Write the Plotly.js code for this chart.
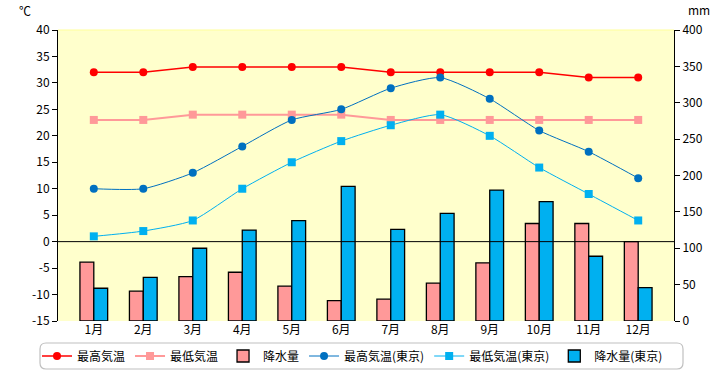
<!DOCTYPE html>
<html><head><meta charset="utf-8">
<script src="https://cdn.plot.ly/plotly-3.0.1.min.js"></script>
<style>html,body{margin:0;padding:0;background:#fff}#c{width:720px;height:370px}</style>
</head><body><div id="c"></div>
<script>
const months = ["1月","2月","3月","4月","5月","6月","7月","8月","9月","10月","11月","12月"];
const maxTemp = [32,32,33,33,33,33,32,32,32,32,31,31];
const minTemp = [23,23,24,24,24,24,23,23,23,23,23,23];
const rain = [81,41,61,67,48,28,30,52,80,134,134,109];
const maxTempTokyo = [10,10,13,18,23,25,29,31,27,21,17,12];
const minTempTokyo = [1,2,4,10,15,19,22,24,20,14,9,4];
const rainTokyo = [45,60,100,125,138,185,126,148,180,164,89,46];
const tempTicks = [-15,-10,-5,0,5,10,15,20,25,30,35,40];
const tempTickText = ["-15","-10","-5","0","5","10","15","20","25","30","35","40"];

const F = '"Noto Sans CJK JP","Noto Sans",sans-serif';
const traces = [
  {name:"最高気温", x:months, y:maxTemp, yaxis:"y2", type:"scatter", mode:"lines+markers",
   line:{color:"#FF0000", width:1.5}, marker:{color:"#FF0000", size:8, symbol:"circle"}},
  {name:"最低気温", x:months, y:minTemp, yaxis:"y2", type:"scatter", mode:"lines+markers",
   line:{color:"#FF9999", width:2}, marker:{color:"#FF9999", size:8, symbol:"square"}},
  {name:"降水量", x:months, y:rain, yaxis:"y", type:"bar",
   marker:{color:"#FF9999", line:{color:"#000", width:1.3}}},
  {name:"最高気温(東京)", x:months, y:maxTempTokyo, yaxis:"y2", type:"scatter", mode:"lines+markers",
   line:{color:"#0070C0", width:1, shape:"spline", smoothing:0.6}, marker:{color:"#0070C0", size:8, symbol:"circle"}},
  {name:"最低気温(東京)", x:months, y:minTempTokyo, yaxis:"y2", type:"scatter", mode:"lines+markers",
   line:{color:"#00B0F0", width:1, shape:"spline", smoothing:0.6}, marker:{color:"#00B0F0", size:8, symbol:"square"}},
  {name:"降水量(東京)", x:months, y:rainTokyo, yaxis:"y", type:"bar",
   marker:{color:"#00B0F0", line:{color:"#000", width:1.3}}}
];

// paper conversions
const L=58, R=46, T=30, B=49, W=720-L-R, H=370-T-B;
const px = v => (v-L)/W, py = v => 1-(v-T)/H;
const bx0=px(40), bx1=px(683), by0=py(343), by1=py(369), rx=6/W, ry=6/H;
const boxPath = `M ${bx0+rx},${by0} L ${bx1-rx},${by0} Q ${bx1},${by0} ${bx1},${by0-ry} L ${bx1},${by1+ry} Q ${bx1},${by1} ${bx1-rx},${by1} L ${bx0+rx},${by1} Q ${bx0},${by1} ${bx0},${by1+ry} L ${bx0},${by0-ry} Q ${bx0},${by0} ${bx0+rx},${by0} Z`;

const layout = {
  width:720, height:370,
  margin:{l:L, r:R, t:T, b:B, pad:0, autoexpand:false},
  paper_bgcolor:"#fff", plot_bgcolor:"#FFFFCC",
  font:{family:F, size:12, color:"#000"},
  barmode:"group", bargap:0.44, bargroupgap:0,
  showlegend:true,
  legend:{orientation:"h", x:px(37), xanchor:"left", y:py(356), yanchor:"middle",
          bgcolor:"rgba(0,0,0,0)", borderwidth:0, font:{family:F, size:12}, traceorder:"normal"},
  xaxis:{type:"category", showgrid:false, zeroline:false, showline:false, ticks:"",
         tickfont:{family:F, size:12}},
  yaxis:{side:"right", range:[0,400], dtick:50, showgrid:false, zeroline:false,
         showline:true, linecolor:"#000", linewidth:1, ticks:"outside", ticklen:5, tickcolor:"#000",
         tickfont:{family:F, size:12}},
  yaxis2:{overlaying:"y", side:"left", range:[-15,40], tickvals:tempTicks, ticktext:tempTickText,
          showgrid:false, zeroline:false, showline:true, linecolor:"#000", linewidth:1,
          ticks:"outside", ticklen:5, tickcolor:"#000", tickfont:{family:F, size:12}},
  shapes:[
    {type:"line", xref:"paper", x0:0, x1:1, yref:"y2", y0:0, y1:0, line:{color:"#000", width:1}, layer:"above"},
    {type:"line", xref:"paper", x0:0, x1:1, yref:"paper", y0:1, y1:1, line:{color:"#FFFF99", width:1}, layer:"above"},
    {type:"path", xref:"paper", yref:"paper", path:boxPath, line:{color:"#C0C0C0", width:1.2}, fillcolor:"rgba(0,0,0,0)", layer:"below"}
  ],
  annotations:[
    {text:"℃", xref:"paper", yref:"paper", x:px(25), y:py(10), showarrow:false, xanchor:"center", yanchor:"middle", font:{family:F, size:12}},
    {text:"mm", xref:"paper", yref:"paper", x:px(699), y:py(9), showarrow:false, xanchor:"center", yanchor:"middle", font:{family:F, size:12}}
  ]
};
Plotly.newPlot("c", traces, layout, {staticPlot:true, displayModeBar:false});
</script>
</body></html>
